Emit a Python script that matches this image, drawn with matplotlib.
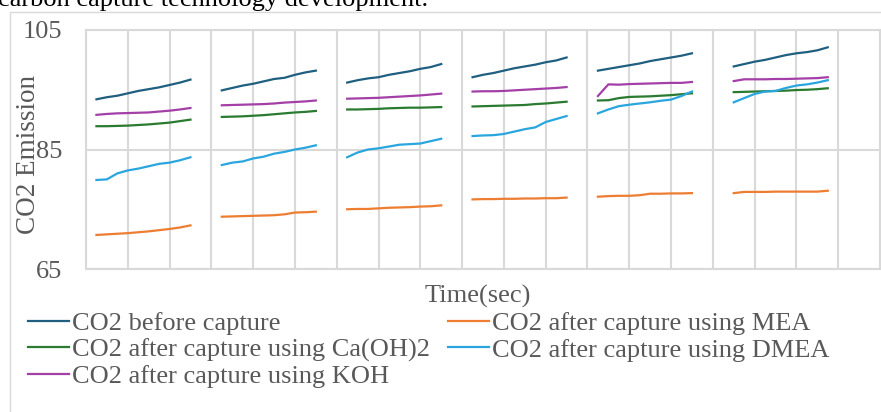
import numpy as np
import matplotlib.pyplot as plt
from matplotlib.patches import Rectangle

# Emission data, 10 samples per run, 6 runs (blank cells between runs)
seg_starts = [1, 13, 25, 37, 49, 62]
n_cats = 77

before = [93.4, 93.75, 94.0, 94.4, 94.8, 95.1, 95.4, 95.8, 96.2, 96.7,
          94.9, 95.3, 95.7, 96.0, 96.4, 96.8, 97.0, 97.5, 97.9, 98.2,
          96.2, 96.6, 96.9, 97.1, 97.5, 97.8, 98.1, 98.5, 98.8, 99.3,
          97.1, 97.5, 97.8, 98.2, 98.6, 98.9, 99.2, 99.6, 99.9, 100.4,
          98.2, 98.5, 98.8, 99.1, 99.4, 99.8, 100.1, 100.4, 100.7, 101.1,
          98.9, 99.3, 99.7, 100.0, 100.4, 100.8, 101.1, 101.3, 101.6, 102.1]
mea = [70.7, 70.8, 70.9, 71.0, 71.15, 71.3, 71.5, 71.7, 71.95, 72.3,
       73.75, 73.8, 73.85, 73.9, 73.95, 74.0, 74.15, 74.45, 74.5, 74.6,
       75.0, 75.05, 75.05, 75.15, 75.25, 75.3, 75.35, 75.45, 75.5, 75.65,
       76.65, 76.7, 76.7, 76.75, 76.75, 76.8, 76.8, 76.85, 76.85, 76.95,
       77.1, 77.2, 77.25, 77.25, 77.35, 77.6, 77.6, 77.65, 77.65, 77.7,
       77.7, 77.9, 77.9, 77.9, 77.95, 77.95, 77.95, 77.95, 77.95, 78.1]
caoh2 = [88.9, 88.9, 88.95, 89.0, 89.1, 89.2, 89.35, 89.5, 89.75, 90.0,
         90.45, 90.5, 90.55, 90.65, 90.75, 90.9, 91.05, 91.2, 91.3, 91.45,
         91.7, 91.7, 91.75, 91.8, 91.9, 91.95, 92.0, 92.0, 92.05, 92.1,
         92.2, 92.25, 92.3, 92.35, 92.4, 92.45, 92.6, 92.7, 92.85, 93.0,
         93.2, 93.25, 93.6, 93.8, 93.85, 93.9, 94.0, 94.1, 94.25, 94.4,
         94.6, 94.65, 94.7, 94.75, 94.8, 94.85, 94.95, 95.0, 95.1, 95.25]
dmea = [79.9, 80.0, 81.0, 81.5, 81.8, 82.2, 82.6, 82.8, 83.2, 83.7,
        82.4, 82.8, 83.0, 83.5, 83.8, 84.3, 84.6, 85.0, 85.3, 85.7,
        83.7, 84.5, 85.0, 85.2, 85.5, 85.8, 85.9, 86.0, 86.4, 86.8,
        87.25, 87.35, 87.4, 87.6, 88.0, 88.4, 88.7, 89.6, 90.1, 90.6,
        91.05, 91.7, 92.25, 92.5, 92.7, 92.9, 93.15, 93.35, 93.95, 94.7,
        92.9, 93.6, 94.3, 94.7, 94.8, 95.3, 95.7, 95.9, 96.2, 96.6]
koh = [90.8, 90.95, 91.05, 91.1, 91.15, 91.2, 91.35, 91.5, 91.7, 91.95,
       92.4, 92.45, 92.5, 92.55, 92.6, 92.7, 92.85, 92.95, 93.05, 93.2,
       93.5, 93.55, 93.6, 93.65, 93.75, 93.85, 93.95, 94.05, 94.2, 94.35,
       94.7, 94.75, 94.75, 94.8, 94.9, 95.0, 95.1, 95.2, 95.3, 95.45,
       93.95, 95.9, 95.85, 95.95, 96.0, 96.05, 96.1, 96.15, 96.15, 96.3,
       96.45, 96.75, 96.75, 96.75, 96.8, 96.8, 96.85, 96.9, 96.95, 97.1]

labels = ['CO2 before capture', 'CO2 after capture using MEA',
          'CO2 after capture using Ca(OH)2', 'CO2 after capture using DMEA',
          'CO2 after capture using KOH']
colors = ['#1f5f80', '#ed7d31', '#2a7a2f', '#2aa6df', '#a33fa6']
series = [before, mea, caoh2, dmea, koh]


def spread(vals):
    # put the runs onto the category axis, blanks in between
    y = np.full(n_cats, np.nan)
    for k, s in enumerate(seg_starts):
        y[s:s + 10] = vals[k * 10:(k + 1) * 10]
    return y


plt.rcParams['font.family'] = ['Liberation Serif', 'DejaVu Serif']
grey = '#595959'
grid = '#d9d9d9'

fig = plt.figure(figsize=(8.81, 4.12), dpi=100)
ax = fig.add_axes([86 / 881, 1 - 269 / 412, 794 / 881, 239 / 412])

x = np.arange(n_cats)
handles = []
for vals, c, lab in zip(series, colors, labels):
    h, = ax.plot(x, spread(vals), color=c, linewidth=1.6, label=lab)
    handles.append(h)

ax.set_xlim(0, 76)
ax.set_ylim(65, 105)
ax.set_yticks([65, 85, 105])
ax.set_xticks(np.arange(0, 77, 4))
ax.set_xticklabels([])
ax.tick_params(axis='both', length=0)
ax.tick_params(axis='y', pad=17, labelsize=19, labelcolor=grey)
ax.grid(True, color=grid, linewidth=1.5)
ax.set_axisbelow(True)
for sp in ax.spines.values():
    sp.set_color(grid)
    sp.set_linewidth(1.5)

fig.text(29 / 881, 1 - 155 / 412, 'CO2 Emission', rotation=90,
         ha='center', va='center', fontsize=19.5, color=grey)
fig.text(478 / 881, 1 - 296 / 412, 'Time(sec)', ha='center', va='center',
         fontsize=19, color=grey)

# cut-off caption text from the page above the chart
fig.text(-0.002, 1 - 6 / 412, 'carbon capture technology development.',
         fontsize=19, va='baseline', color='black')

# chart area border
fig.patches.append(Rectangle((9.5 / 881, -0.2), 1.2, 1.2 - 12 / 412,
                             transform=fig.transFigure, fill=False,
                             edgecolor=grid, linewidth=1))

order = [0, 2, 4, 1, 3]
leg = fig.legend([handles[i] for i in order], [labels[i] for i in order],
                 loc='upper left', bbox_to_anchor=(28 / 881, 1 - 312 / 412),
                 ncol=2, frameon=False, fontsize=19, handlelength=1.55,
                 handletextpad=0.1, columnspacing=0.7, labelspacing=0.1,
                 borderpad=0, borderaxespad=0)
for t in leg.get_texts():
    t.set_color(grey)

fig.savefig('out.png', dpi=100)
